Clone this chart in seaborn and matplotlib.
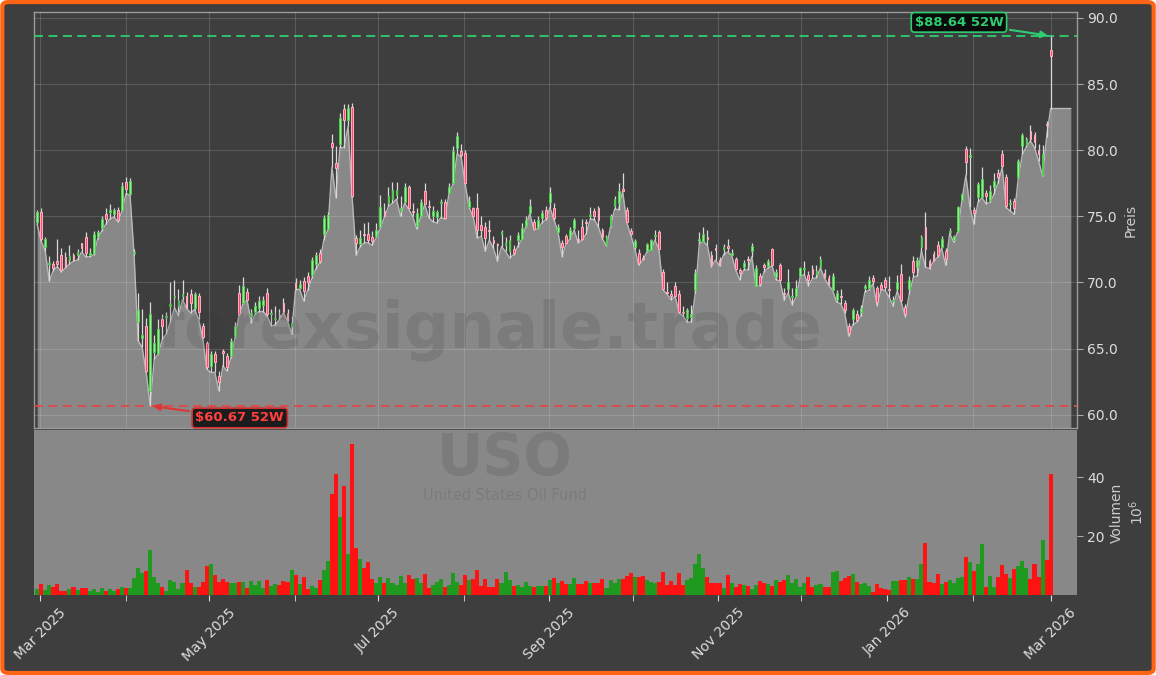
import numpy as np
import matplotlib
matplotlib.use("Agg")
import matplotlib.pyplot as plt
import matplotlib.dates as mdates
from matplotlib.patches import FancyBboxPatch
import seaborn as sns

# USO (United States Oil Fund) daily candles, 28.02.2025 - 01.03.2026
# values, one row = 10 trading days
first_day = "2025-02-28"
last_day = "2026-03-01"

open_ = [
    74.6, 75.3, 72.7, 71.4, 71.4, 71.6, 72.1, 71.95, 71.7, 72.1,
    72.1, 72.95, 73.45, 72.1, 72.2, 73.4, 74.1, 75.2, 75.3, 75.2,
    75.5, 75.5, 77.6, 76.7, 72.2, 67.0, 65.8, 66.7, 61.8, 64.75,
    64.7, 67.2, 67.4, 68.2, 68.9, 68.2, 69.0, 68.95, 69.1, 68.1,
    68.95, 66.7, 65.45, 63.7, 64.6, 62.95, 64.8, 64.45, 64.45, 65.95,
    69.2, 68.45, 69.3, 67.45, 67.8, 68.1, 68.3, 69.2, 67.6, 67.2,
    67.5, 68.45, 67.7, 66.7, 69.95, 69.6, 70.1, 70.5, 70.6, 71.4,
    72.2, 73.7, 74.05, 80.55, 79.05, 80.5, 83.1, 82.3, 83.3, 73.35,
    72.9, 73.7, 73.7, 73.45, 73.5, 74.2, 75.4, 76.0, 76.3, 76.6,
    75.4, 76.05, 77.25, 75.4, 74.25, 75.0, 76.9, 75.75, 75.05, 74.95,
    76.0, 76.1, 76.8, 77.5, 80.15, 79.9, 79.75, 75.7, 75.6, 75.6,
    74.35, 74.2, 74.0, 73.2, 72.9, 73.7, 72.8, 72.35, 72.5, 73.2,
    73.3, 74.25, 75.25, 74.6, 74.1, 74.9, 75.45, 76.05, 75.65, 73.85,
    73.0, 73.5, 73.4, 74.1, 73.3, 74.2, 74.6, 75.0, 75.4, 75.6,
    73.95, 72.8, 74.3, 75.8, 76.0, 77.05, 75.45, 73.9, 72.65, 72.25,
    71.8, 72.4, 72.45, 73.5, 73.8, 70.8, 69.3, 69.15, 69.75, 69.15,
    67.8, 67.3, 67.4, 69.45, 73.1, 73.15, 73.4, 72.1, 72.6, 71.7,
    72.5, 72.75, 72.1, 71.75, 70.95, 71.2, 71.75, 72.4, 69.75, 70.5,
    71.3, 71.25, 72.5, 70.4, 71.3, 69.2, 69.5, 68.9, 69.0, 70.5,
    71.0, 70.6, 71.0, 70.65, 71.2, 70.75, 70.35, 69.4, 68.65, 69.0,
    68.45, 66.7, 67.2, 67.65, 67.75, 69.6, 69.6, 70.35, 69.55, 69.8,
    70.15, 69.5, 68.6, 69.5, 70.65, 68.15, 69.5, 71.6, 71.15, 72.65,
    74.2, 71.6, 72.15, 72.8, 72.7, 72.4, 73.8, 73.2, 73.9, 76.2,
    80.1, 79.5, 75.5, 76.45, 76.45, 76.8, 76.2, 77.2, 78.3, 79.7,
    77.95, 75.9, 76.15, 77.95, 80.3, 80.4, 81.45, 81.15, 80.05, 78.15,
    82.0, 87.55,
]
high = [
    75.5, 75.6, 73.4, 72.0, 71.6, 73.3, 72.6, 72.3, 72.8, 72.2,
    72.5, 73.0, 73.8, 72.6, 73.9, 74.0, 75.0, 75.6, 75.9, 75.6,
    75.7, 77.6, 78.0, 77.9, 72.5, 69.2, 68.0, 67.3, 68.5, 66.0,
    67.2, 67.6, 67.8, 70.0, 70.2, 69.5, 70.2, 69.3, 69.5, 69.3,
    69.2, 66.9, 65.6, 64.8, 64.8, 63.3, 65.0, 64.7, 65.8, 67.0,
    69.8, 70.4, 69.6, 68.0, 68.5, 69.0, 69.0, 69.6, 68.0, 68.2,
    68.0, 68.8, 68.0, 67.5, 70.3, 70.2, 70.4, 70.8, 71.9, 72.3,
    72.5, 75.1, 75.3, 81.2, 80.3, 82.8, 83.5, 83.5, 83.6, 73.6,
    74.0, 74.5, 74.6, 73.9, 74.5, 76.6, 76.0, 77.2, 77.6, 77.6,
    76.5, 77.5, 77.4, 76.0, 75.6, 76.3, 77.5, 76.2, 75.8, 75.5,
    76.3, 76.3, 77.5, 80.3, 81.4, 80.5, 80.0, 76.5, 75.7, 76.8,
    75.0, 74.6, 74.7, 73.5, 73.0, 74.0, 73.4, 73.6, 72.8, 73.8,
    74.5, 75.0, 76.3, 74.8, 75.0, 75.5, 75.8, 77.2, 76.0, 74.4,
    73.2, 73.7, 74.2, 74.9, 74.0, 74.8, 74.8, 75.7, 75.6, 75.8,
    74.1, 73.6, 75.2, 76.5, 77.5, 78.25, 75.7, 74.1, 73.3, 72.5,
    72.1, 73.0, 73.3, 74.0, 74.0, 71.0, 70.0, 69.4, 70.0, 69.4,
    68.2, 68.1, 68.3, 71.0, 73.8, 74.2, 74.0, 72.4, 72.9, 71.9,
    72.9, 73.3, 72.5, 71.9, 71.1, 71.7, 72.0, 73.0, 71.3, 70.7,
    71.5, 71.8, 72.6, 71.0, 71.5, 69.6, 71.0, 69.6, 70.2, 71.2,
    71.6, 70.9, 71.3, 71.3, 72.0, 71.0, 70.6, 70.7, 69.4, 69.5,
    68.7, 66.9, 68.1, 67.9, 68.3, 69.9, 70.5, 70.6, 69.7, 70.0,
    70.4, 70.5, 69.0, 70.6, 71.4, 68.4, 70.5, 72.0, 71.9, 73.6,
    75.3, 71.8, 72.4, 73.1, 73.5, 72.6, 74.1, 73.6, 75.8, 76.8,
    80.3, 80.2, 75.7, 77.6, 78.7, 77.0, 77.4, 78.3, 78.6, 80.0,
    78.2, 76.3, 76.4, 79.3, 81.3, 81.0, 81.9, 81.4, 80.5, 80.4,
    82.2, 88.64,
]
low = [
    74.4, 73.1, 72.4, 70.1, 70.9, 71.2, 70.8, 71.1, 71.4, 71.6,
    71.7, 72.3, 71.95, 71.95, 72.1, 73.3, 73.9, 74.4, 74.8, 74.95,
    74.6, 75.4, 76.7, 76.6, 72.1, 65.6, 65.1, 63.2, 60.67, 64.2,
    64.6, 65.7, 66.1, 67.0, 68.1, 67.5, 68.7, 68.05, 67.7, 67.95,
    67.2, 65.8, 63.45, 63.2, 63.2, 61.8, 63.7, 63.3, 64.3, 65.8,
    67.55, 68.4, 68.65, 66.95, 67.6, 67.8, 67.8, 67.45, 66.7, 66.8,
    67.2, 67.7, 67.1, 66.1, 69.45, 69.5, 68.6, 69.4, 70.3, 71.0,
    71.5, 73.2, 74.0, 78.7, 76.4, 80.2, 80.2, 81.8, 76.45, 72.05,
    72.7, 73.0, 73.0, 72.8, 73.4, 74.1, 74.95, 75.75, 76.0, 76.3,
    75.0, 76.0, 75.55, 75.0, 74.05, 74.95, 75.9, 74.9, 74.6, 74.5,
    74.9, 74.8, 76.75, 77.45, 79.7, 79.5, 77.45, 75.65, 74.95, 73.35,
    73.5, 72.35, 73.2, 72.6, 71.6, 72.7, 72.35, 71.85, 72.1, 72.7,
    73.25, 74.2, 75.2, 74.0, 74.05, 74.5, 74.75, 75.65, 74.75, 73.8,
    71.95, 72.95, 73.3, 73.95, 73.0, 73.2, 73.7, 74.8, 74.75, 74.2,
    73.3, 72.75, 74.2, 75.55, 75.5, 76.9, 74.55, 73.6, 72.55, 71.3,
    71.7, 72.3, 72.45, 73.2, 72.5, 69.45, 69.1, 68.7, 68.95, 67.7,
    67.45, 67.0, 67.0, 69.2, 72.95, 73.1, 72.8, 71.2, 71.7, 71.25,
    72.1, 72.3, 72.05, 70.95, 70.2, 70.95, 70.95, 71.95, 69.7, 69.75,
    70.8, 71.1, 71.25, 70.2, 70.1, 68.65, 69.2, 68.3, 68.95, 70.45,
    70.6, 69.75, 70.3, 70.35, 71.1, 70.3, 69.8, 69.4, 68.5, 68.4,
    67.7, 65.95, 66.8, 67.0, 67.5, 69.3, 69.4, 69.9, 68.25, 69.45,
    69.4, 68.9, 68.2, 69.35, 68.5, 67.4, 69.15, 70.4, 70.5, 72.4,
    71.15, 71.05, 71.6, 71.9, 72.6, 71.3, 73.7, 73.05, 73.85, 76.15,
    78.1, 75.7, 74.4, 76.05, 76.4, 75.95, 76.05, 76.7, 77.55, 78.7,
    75.65, 75.4, 75.15, 77.9, 79.7, 80.25, 80.7, 80.2, 79.2, 78.05,
    81.0, 83.15,
]
close = [
    75.3, 73.3, 73.3, 71.5, 71.1, 71.4, 70.95, 71.2, 72.0, 71.7,
    72.3, 72.6, 72.2, 72.2, 73.7, 73.8, 74.8, 74.8, 75.45, 75.45,
    74.75, 77.3, 77.1, 77.7, 72.3, 67.9, 66.0, 63.3, 67.6, 65.45,
    66.5, 66.7, 67.5, 68.4, 69.0, 68.7, 69.1, 68.1, 68.45, 69.1,
    67.75, 65.9, 63.6, 64.6, 63.95, 62.45, 64.7, 63.6, 65.6, 66.7,
    67.6, 69.7, 68.7, 67.7, 68.2, 68.6, 68.7, 67.6, 67.7, 67.3,
    67.45, 67.8, 67.2, 66.9, 69.6, 69.9, 69.35, 70.0, 71.7, 72.1,
    71.6, 74.9, 75.1, 80.25, 78.65, 82.4, 82.3, 83.2, 76.5, 73.0,
    73.35, 73.6, 73.2, 73.1, 74.0, 75.7, 75.0, 76.5, 77.0, 77.0,
    75.6, 77.25, 75.6, 75.3, 75.25, 76.1, 75.95, 75.7, 75.4, 75.3,
    76.1, 74.9, 77.2, 79.9, 81.05, 79.6, 77.5, 76.15, 75.0, 74.0,
    74.0, 73.35, 73.9, 72.95, 72.85, 73.8, 73.0, 73.2, 72.25, 73.55,
    74.1, 74.7, 75.8, 74.05, 74.7, 75.25, 74.9, 76.75, 74.85, 74.2,
    72.65, 73.0, 74.0, 74.7, 73.2, 73.3, 74.5, 75.1, 75.0, 74.7,
    73.45, 73.45, 75.05, 76.3, 76.95, 76.95, 74.6, 73.7, 73.1, 71.5,
    71.75, 72.9, 73.2, 73.6, 72.55, 69.5, 69.2, 68.95, 69.0, 67.8,
    67.7, 67.9, 67.6, 70.7, 73.3, 73.65, 73.3, 71.3, 72.45, 71.4,
    72.7, 72.6, 72.2, 71.0, 70.7, 71.45, 71.7, 72.75, 71.1, 69.9,
    71.2, 71.6, 71.3, 70.8, 70.2, 69.1, 70.0, 69.0, 69.6, 71.1,
    71.1, 70.15, 70.65, 70.9, 71.8, 70.4, 69.9, 70.5, 69.2, 68.9,
    67.9, 66.15, 67.95, 67.15, 68.1, 69.7, 70.2, 70.1, 68.5, 69.5,
    69.65, 69.4, 68.7, 70.0, 68.65, 67.65, 70.2, 70.8, 71.7, 73.4,
    72.55, 71.15, 71.65, 72.05, 73.3, 71.8, 73.9, 73.5, 75.7, 76.65,
    79.1, 79.6, 75.25, 77.45, 77.8, 76.55, 76.9, 77.7, 77.95, 78.8,
    75.8, 76.0, 75.65, 79.2, 81.15, 80.85, 80.85, 80.65, 79.7, 79.7,
    81.9, 87.1,
]
# volume in millions of shares
volume = [
    1.9, 3.7, 1.7, 3.4, 2.8, 3.7, 1.4, 1.4, 1.9, 2.6,
    1.7, 2.4, 2.4, 1.4, 2.0, 1.1, 2.3, 1.4, 1.9, 1.4,
    2.0, 2.6, 2.3, 2.3, 5.8, 9.2, 7.6, 8.1, 15.3, 6.1,
    4.1, 2.7, 1.4, 5.1, 4.4, 2.0, 4.1, 8.5, 4.1, 2.7,
    2.7, 4.4, 9.8, 10.5, 6.8, 4.4, 5.4, 4.4, 4.1, 4.1,
    4.4, 4.4, 2.4, 4.7, 3.4, 4.7, 2.4, 5.1, 3.1, 3.7,
    3.4, 4.7, 4.4, 8.5, 6.8, 3.7, 6.1, 2.0, 3.1, 2.4,
    5.1, 8.5, 11.5, 34.2, 41.0, 26.6, 37.0, 13.9, 51.2, 15.9,
    12.2, 9.2, 11.2, 5.4, 4.1, 6.1, 4.1, 5.8, 4.1, 3.4,
    6.4, 4.1, 6.8, 5.4, 5.8, 4.1, 7.1, 2.4, 3.4, 4.4,
    5.4, 2.7, 3.4, 7.5, 4.4, 3.4, 6.8, 5.1, 5.4, 8.5,
    3.1, 5.4, 2.7, 2.7, 5.4, 4.1, 7.8, 5.1, 3.1, 3.4,
    2.7, 4.4, 3.1, 2.7, 3.1, 3.1, 3.1, 5.1, 5.8, 4.1,
    4.7, 3.7, 3.7, 5.8, 3.7, 3.7, 4.7, 4.1, 4.1, 4.1,
    5.4, 2.4, 5.1, 4.1, 5.4, 5.4, 6.4, 7.5, 6.1, 6.1,
    6.4, 5.1, 4.4, 4.1, 4.4, 7.8, 3.4, 4.7, 3.4, 7.5,
    3.4, 5.1, 5.8, 10.5, 13.9, 9.2, 6.1, 4.1, 4.1, 4.1,
    2.4, 6.8, 4.1, 2.7, 3.7, 3.4, 3.1, 2.0, 3.4, 4.7,
    4.1, 3.7, 3.1, 5.1, 4.4, 5.1, 6.8, 4.1, 5.4, 2.7,
    4.2, 6.2, 2.8, 3.4, 3.9, 2.8, 2.8, 7.8, 8.1, 4.7,
    5.7, 6.4, 7.1, 4.5, 3.9, 4.2, 3.0, 1.1, 3.7, 2.4,
    2.0, 1.7, 4.8, 4.8, 5.1, 5.1, 6.2, 5.4, 5.4, 10.5,
    17.7, 4.5, 4.2, 7.1, 3.7, 4.5, 5.1, 4.2, 5.7, 6.0,
    13.0, 11.3, 8.2, 10.5, 17.2, 2.6, 6.4, 2.6, 6.0, 10.1,
    7.1, 5.7, 8.9, 9.8, 11.5, 9.1, 5.3, 10.5, 6.2, 18.6,
    11.8, 41.1,
]

bg = "#3e3e3e"
grey = "#888888"
txt = "#dddddd"

sns.set_style("dark")
plt.rcParams["font.family"] = ["DejaVu Sans"]

o = np.array(open_)
h = np.array(high)
l = np.array(low)
c = np.array(close)
v = np.array(volume)
up = c >= o

# candles evenly spaced between first and last day
x = np.linspace(mdates.datestr2num(first_day), mdates.datestr2num(last_day), len(c))
step = x[1] - x[0]

fig = plt.figure(figsize=(11.56, 6.75), dpi=100)
fig.patch.set_facecolor("white")
fig.patches.append(FancyBboxPatch((0.002, 0.003), 0.996, 0.994,
                                  boxstyle="round,pad=0,rounding_size=0.006",
                                  transform=fig.transFigure, fc=bg, ec="#ff6414",
                                  lw=3, zorder=-1))

ax = fig.add_axes([0.0298, 0.366, 0.9016, 0.6163])
axv = fig.add_axes([0.0298, 0.1185, 0.9016, 0.2444])
ax.set_facecolor(bg)
axv.set_facecolor(grey)

# grey area under the lows, carried a few steps past the last candle
x_fill = np.append(x, x[-1] + 5 * step)
l_fill = np.append(l, l[-1])
ax.fill_between(x_fill, l_fill, 50, color=grey, lw=0, zorder=1)
sns.lineplot(x=x_fill, y=l_fill, ax=ax, color="#b8b8b8", lw=1.0, zorder=2)

# candles
ax.vlines(x, l, h, color="#d8d8d8", lw=0.9, zorder=3)
body_lo = np.minimum(o, c)
body_h = np.maximum(np.abs(c - o), 0.08)
ax.bar(x[up], body_h[up], bottom=body_lo[up], width=step * 0.45,
       color="#9ee89e", edgecolor="#4fcf4f", lw=0.7, zorder=4)
ax.bar(x[~up], body_h[~up], bottom=body_lo[~up], width=step * 0.45,
       color="#ff4d70", edgecolor="#ffb0c0", lw=0.7, zorder=4)

# 52 week high / low
hi52 = h.max()
lo52 = l.min()
ax.axhline(hi52, color="#2ecc71", ls=(0, (5, 3)), lw=1.3, zorder=2.6)
ax.axhline(lo52, color="#e04848", ls=(0, (5, 3)), lw=1.3, zorder=2.6)
ax.annotate(f"${hi52:.2f} 52W", xy=(x[h.argmax()], hi52), xytext=(0.887, 0.975),
            textcoords="axes fraction", ha="center", va="center",
            color="#2ecc71", fontsize=9.5, fontweight="bold", zorder=6,
            bbox=dict(boxstyle="round,pad=0.25", fc="#0b0b0b", ec="#2ecc71", lw=1.2),
            arrowprops=dict(arrowstyle="-|>", color="#2ecc71", lw=1.5, mutation_scale=10))
ax.annotate(f"${lo52:.2f} 52W", xy=(x[l.argmin()], lo52), xytext=(0.197, 0.024),
            textcoords="axes fraction", ha="center", va="center",
            color="#ff4040", fontsize=9.5, fontweight="bold", zorder=6,
            bbox=dict(boxstyle="round,pad=0.25", fc="#1c1c1c", ec="#d03030", lw=1.2),
            arrowprops=dict(arrowstyle="-|>", color="#e03535", lw=1.5, mutation_scale=10))

# volume
axv.bar(x, v, width=step, color=np.where(up, "#1f9a1f", "#ff1212"), lw=0, zorder=2)

xmin = x[0] - 0.67 * step
xmax = x[-1] + 6.45 * step
for a in (ax, axv):
    a.set_xlim(xmin, xmax)
    a.yaxis.tick_right()
    a.yaxis.set_label_position("right")

ax.set_ylim(59.0, 90.45)
ax.set_yticks(np.arange(60, 91, 5))
ax.yaxis.set_major_formatter(matplotlib.ticker.FormatStrFormatter("%.1f"))
ax.xaxis.set_major_locator(mdates.MonthLocator())
ax.tick_params(axis="x", length=0, labelbottom=False)
ax.tick_params(axis="y", colors="#aaaaaa", labelcolor=txt, labelsize=10, length=4,
               right=True, left=False)
ax.grid(True, color="white", alpha=0.15, lw=0.8)
ax.set_axisbelow(False)
ax.set_xlabel("")
ax.set_ylabel("Preis", color="#cccccc", fontsize=10)
for s in ax.spines.values():
    s.set_color("#9a9a9a")
    s.set_linewidth(1)

axv.set_ylim(0, 56)
axv.set_yticks([20, 40])
axv.xaxis.set_major_locator(mdates.MonthLocator(bymonth=(1, 3, 5, 7, 9, 11)))
axv.xaxis.set_major_formatter(mdates.DateFormatter("%b %Y"))
axv.xaxis.set_minor_locator(mdates.MonthLocator())
axv.tick_params(axis="x", which="both", colors="#dddddd", labelcolor=txt,
                labelsize=10, length=4, labelrotation=45, bottom=True)
axv.tick_params(axis="y", colors="#aaaaaa", labelcolor=txt, labelsize=10, length=4,
                right=True, left=False)
axv.grid(False)
axv.set_ylabel("Volumen\n$10^6$", color="#cccccc", fontsize=10)
for s in axv.spines.values():
    s.set_visible(False)

# watermark
wm = dict(color="#333333", alpha=0.15, ha="center", va="center", zorder=10)
fig.text(0.424, 0.512, "forexsignale.trade", fontsize=46, fontweight="bold", **wm)
fig.text(0.437, 0.320, "USO", fontsize=41, fontweight="bold", **wm)
fig.text(0.437, 0.266, "United States Oil Fund", fontsize=10.5, **wm)

fig.savefig("out.png", dpi=100, facecolor=fig.get_facecolor())
